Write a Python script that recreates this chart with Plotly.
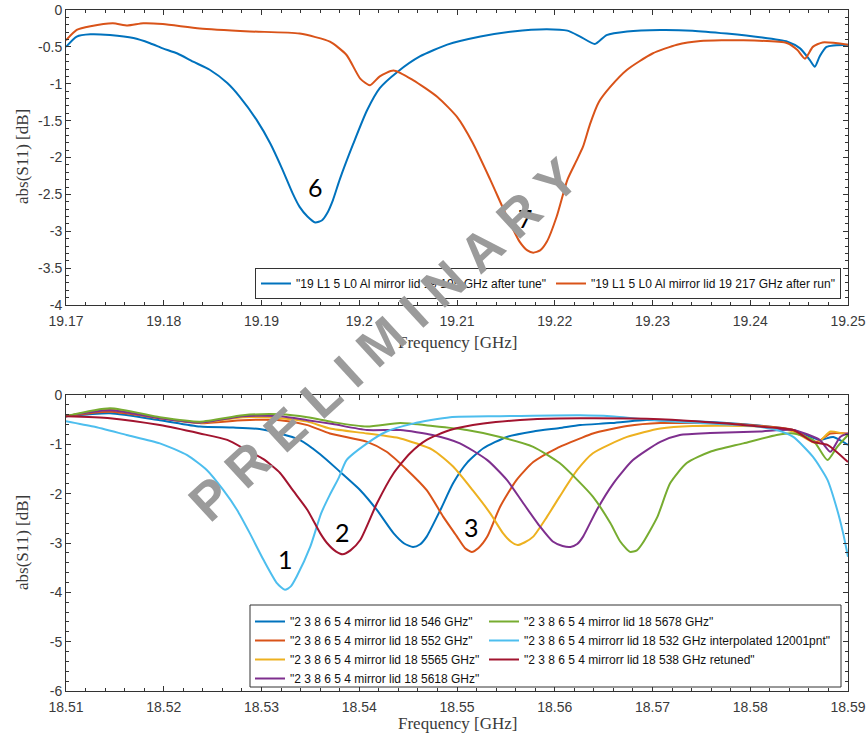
import plotly.graph_objects as go

W, H = 867, 737

# ---------------- data: top panel ----------------
top_blue_f = [19.1700, 19.1711, 19.1725, 19.1745, 19.1769, 19.1786, 19.1799, 19.1814, 19.1830, 19.1847,
              19.1865, 19.1878, 19.1895, 19.1909, 19.1921, 19.1932, 19.1939, 19.1947, 19.1955, 19.1962,
              19.1967, 19.1973, 19.1980, 19.1994, 19.2008, 19.2021, 19.2039, 19.2062, 19.2090, 19.2124,
              19.2157, 19.2192, 19.2213, 19.2226, 19.2241, 19.2253, 19.2274, 19.2308, 19.2341, 19.2376,
              19.2410, 19.2438, 19.2451, 19.2461, 19.2466, 19.2471, 19.2478, 19.2500]
top_blue_db = [-0.50, -0.36, -0.33, -0.34, -0.38, -0.45, -0.52, -0.59, -0.70, -0.81,
               -0.99, -1.18, -1.49, -1.81, -2.15, -2.49, -2.67, -2.80, -2.88, -2.85,
               -2.76, -2.58, -2.30, -1.81, -1.36, -1.06, -0.84, -0.63, -0.47, -0.36,
               -0.29, -0.26, -0.28, -0.36, -0.46, -0.34, -0.29, -0.27, -0.28, -0.32,
               -0.37, -0.43, -0.52, -0.68, -0.77, -0.63, -0.50, -0.47]

top_orange_f = [19.1700, 19.1711, 19.1725, 19.1748, 19.1763, 19.1779, 19.1799, 19.1837, 19.1888, 19.1939,
                19.1970, 19.1987, 19.2001, 19.2011, 19.2021, 19.2035, 19.2055, 19.2080, 19.2100, 19.2116,
                19.2134, 19.2151, 19.2164, 19.2172, 19.2178, 19.2185, 19.2192, 19.2202, 19.2213, 19.2222,
                19.2229, 19.2236, 19.2245, 19.2257, 19.2274, 19.2300, 19.2325, 19.2349, 19.2393, 19.2438,
                19.2448, 19.2456, 19.2464, 19.2474, 19.2500]
top_orange_db = [-0.41, -0.27, -0.22, -0.18, -0.21, -0.18, -0.19, -0.25, -0.29, -0.32,
                 -0.43, -0.61, -0.93, -1.02, -0.90, -0.82, -0.95, -1.18, -1.45, -1.80,
                 -2.30, -2.80, -3.14, -3.26, -3.29, -3.26, -3.14, -2.80, -2.30, -2.05,
                 -1.85, -1.55, -1.25, -1.04, -0.81, -0.59, -0.47, -0.42, -0.41, -0.45,
                 -0.54, -0.66, -0.50, -0.44, -0.47]

top_names = ['"19 L1 5 L0 Al mirror lid 19 195 GHz after tune"',
             '"19 L1 5 L0 Al mirror lid 19 217 GHz after run"']

# ---------------- data: bottom panel ----------------
b546_f = [18.5100, 18.5145, 18.5196, 18.5237, 18.5271, 18.5298, 18.5319, 18.5339, 18.5360, 18.5380,
          18.5401, 18.5418, 18.5435, 18.5446, 18.5455, 18.5462, 18.5469, 18.5483, 18.5496, 18.5510,
          18.5527, 18.5551, 18.5578, 18.5605, 18.5626, 18.5657, 18.5690, 18.5776, 18.5844, 18.5871,
          18.5885, 18.5900]
b546_db = [-0.43, -0.37, -0.51, -0.64, -0.66, -0.69, -0.78, -0.91, -1.20, -1.55,
           -1.93, -2.33, -2.80, -3.01, -3.08, -3.03, -2.87, -2.33, -1.79, -1.38,
           -1.08, -0.85, -0.74, -0.67, -0.61, -0.57, -0.51, -0.57, -0.71, -0.91,
           -0.85, -1.01]

b552_f = [18.5100, 18.5145, 18.5196, 18.5237, 18.5281, 18.5319, 18.5347, 18.5370, 18.5408, 18.5428,
          18.5449, 18.5469, 18.5486, 18.5500, 18.5508, 18.5515, 18.5522, 18.5531, 18.5544, 18.5561,
          18.5578, 18.5602, 18.5626, 18.5639, 18.5674, 18.5708, 18.5776, 18.5844, 18.5868, 18.5882,
          18.5900]
b552_db = [-0.43, -0.34, -0.47, -0.57, -0.51, -0.51, -0.61, -0.78, -0.95, -1.15,
           -1.52, -1.93, -2.47, -2.87, -3.10, -3.18, -3.10, -2.87, -2.27, -1.72,
           -1.36, -1.08, -0.88, -0.78, -0.63, -0.57, -0.58, -0.71, -0.95, -0.78,
           -0.78]

b5565_f = [18.5100, 18.5145, 18.5196, 18.5237, 18.5281, 18.5319, 18.5347, 18.5370, 18.5408, 18.5442,
           18.5475, 18.5496, 18.5516, 18.5534, 18.5547, 18.5555, 18.5562, 18.5569, 18.5578, 18.5592,
           18.5605, 18.5623, 18.5639, 18.5674, 18.5708, 18.5741, 18.5810, 18.5844, 18.5868, 18.5882,
           18.5900]
b5565_db = [-0.43, -0.30, -0.47, -0.56, -0.45, -0.47, -0.54, -0.68, -0.78, -0.88,
            -1.11, -1.45, -1.93, -2.40, -2.80, -2.97, -3.04, -2.99, -2.87, -2.47,
            -2.06, -1.52, -1.18, -0.85, -0.68, -0.63, -0.64, -0.74, -0.98, -0.74,
            -0.81]

b5618_f = [18.5100, 18.5145, 18.5196, 18.5237, 18.5281, 18.5319, 18.5347, 18.5373, 18.5408, 18.5442,
           18.5475, 18.5503, 18.5531, 18.5551, 18.5568, 18.5585, 18.5598, 18.5608, 18.5616, 18.5623,
           18.5629, 18.5643, 18.5660, 18.5680, 18.5708, 18.5728, 18.5759, 18.5810, 18.5844, 18.5871,
           18.5882, 18.5892, 18.5900]
b5618_db = [-0.43, -0.31, -0.47, -0.56, -0.43, -0.43, -0.51, -0.59, -0.71, -0.71,
            -0.81, -0.98, -1.32, -1.72, -2.20, -2.67, -2.97, -3.06, -3.08, -3.02,
            -2.87, -2.33, -1.79, -1.32, -0.95, -0.81, -0.77, -0.74, -0.71, -0.91,
            -1.15, -0.85, -0.78]

b5678_f = [18.5100, 18.5145, 18.5196, 18.5237, 18.5281, 18.5319, 18.5347, 18.5373, 18.5408, 18.5442,
           18.5475, 18.5510, 18.5544, 18.5578, 18.5605, 18.5623, 18.5639, 18.5657, 18.5667, 18.5677,
           18.5684, 18.5690, 18.5705, 18.5718, 18.5735, 18.5759, 18.5793, 18.5827, 18.5844, 18.5864,
           18.5879, 18.5889, 18.5900]
b5678_db = [-0.43, -0.27, -0.45, -0.54, -0.41, -0.39, -0.45, -0.55, -0.64, -0.57,
            -0.63, -0.71, -0.85, -1.05, -1.38, -1.72, -2.06, -2.60, -2.97, -3.18,
            -3.15, -3.00, -2.47, -1.79, -1.38, -1.15, -0.98, -0.81, -0.78, -0.91,
            -1.32, -1.05, -0.81]

b532_f = [18.5100, 18.5128, 18.5162, 18.5196, 18.5224, 18.5244, 18.5261, 18.5275, 18.5288, 18.5302,
          18.5316, 18.5324, 18.5330, 18.5336, 18.5350, 18.5361, 18.5370, 18.5379, 18.5387, 18.5408,
          18.5428, 18.5455, 18.5493, 18.5544, 18.5626, 18.5657, 18.5708, 18.5759, 18.5803, 18.5827,
          18.5844, 18.5864, 18.5879, 18.5889, 18.5895, 18.5900]
b532_db = [-0.53, -0.64, -0.81, -0.98, -1.22, -1.52, -1.93, -2.33, -2.80, -3.34,
           -3.82, -3.95, -3.88, -3.68, -3.07, -2.40, -2.02, -1.68, -1.32, -0.98,
           -0.74, -0.58, -0.45, -0.43, -0.41, -0.43, -0.52, -0.58, -0.63, -0.71,
           -0.85, -1.25, -1.72, -2.33, -2.80, -3.28]

b538_f = [18.5100, 18.5145, 18.5196, 18.5237, 18.5265, 18.5285, 18.5302, 18.5319, 18.5332, 18.5347,
          18.5360, 18.5367, 18.5376, 18.5383, 18.5391, 18.5401, 18.5418, 18.5435, 18.5452, 18.5469,
          18.5493, 18.5527, 18.5578, 18.5626, 18.5708, 18.5776, 18.5810, 18.5844, 18.5864, 18.5879,
          18.5900]
b538_db = [-0.43, -0.47, -0.61, -0.78, -0.91, -1.12, -1.30, -1.58, -1.93, -2.33,
           -2.80, -3.00, -3.17, -3.23, -3.15, -2.94, -2.20, -1.59, -1.18, -0.91,
           -0.71, -0.58, -0.49, -0.47, -0.49, -0.58, -0.64, -0.71, -0.95, -1.01,
           -1.36]

bottom_names = ['"2 3 8 6 5 4 mirror lid 18 546 GHz"',
                '"2 3 8 6 5 4 mirror lid 18 552 GHz"',
                '"2 3 8 6 5 4 mirror lid 18 5565 GHz"',
                '"2 3 8 6 5 4 mirror lid 18 5618 GHz"',
                '"2 3 8 6 5 4 mirror lid 18 5678 GHz"',
                '"2 3 8 6 5 4 mirrorr lid 18 532 GHz interpolated 12001pnt"',
                '"2 3 8 6 5 4 mirrorr lid 18 538 GHz retuned"']

# tick labels
top_x_ticks = [19.17, 19.18, 19.19, 19.20, 19.21, 19.22, 19.23, 19.24, 19.25]
top_x_text = ["19.17", "19.18", "19.19", "19.2", "19.21", "19.22", "19.23", "19.24", "19.25"]
top_y_ticks = [0, -0.5, -1, -1.5, -2, -2.5, -3, -3.5, -4]
top_y_text = ["0", "-0.5", "-1", "-1.5", "-2", "-2.5", "-3", "-3.5", "-4"]
bot_x_ticks = [18.51, 18.52, 18.53, 18.54, 18.55, 18.56, 18.57, 18.58, 18.59]
bot_x_text = ["18.51", "18.52", "18.53", "18.54", "18.55", "18.56", "18.57", "18.58", "18.59"]
bot_y_ticks = [0, -1, -2, -3, -4, -5, -6]
bot_y_text = ["0", "-1", "-2", "-3", "-4", "-5", "-6"]

# dip labels
top_lbl_text = ["6", "7"]
top_lbl_f = [19.1955, 19.2170]
top_lbl_db = [-2.40, -2.82]
bot_lbl_text = ["1", "2", "3"]
bot_lbl_f = [18.5325, 18.5383, 18.5515]
bot_lbl_db = [-3.32, -2.78, -2.68]

# ---------------- figure ----------------
C_BLUE, C_ORANGE, C_YELLOW = "#0072BD", "#D95319", "#EDB120"
C_PURPLE, C_GREEN, C_CYAN, C_MAROON = "#7E2F8E", "#77AC30", "#4DBEEE", "#A2142F"

def px_x(px):
    return px / W

def px_y(py):
    return 1 - py / H

fig = go.Figure()
LW = 2
SM = 0.6

fig.add_trace(go.Scatter(x=top_blue_f, y=top_blue_db, mode="lines", name=top_names[0],
                         line=dict(color=C_BLUE, width=LW, shape="spline", smoothing=SM),
                         xaxis="x", yaxis="y", legend="legend"))
fig.add_trace(go.Scatter(x=top_orange_f, y=top_orange_db, mode="lines", name=top_names[1],
                         line=dict(color=C_ORANGE, width=LW, shape="spline", smoothing=SM),
                         xaxis="x", yaxis="y", legend="legend"))

bottom_series = [
    (b546_f, b546_db, C_BLUE, "legend2"),
    (b552_f, b552_db, C_ORANGE, "legend2"),
    (b5565_f, b5565_db, C_YELLOW, "legend2"),
    (b5618_f, b5618_db, C_PURPLE, "legend2"),
    (b5678_f, b5678_db, C_GREEN, "legend3"),
    (b532_f, b532_db, C_CYAN, "legend3"),
    (b538_f, b538_db, C_MAROON, "legend3"),
]
for (xs, ys, col, lg), nm in zip(bottom_series, bottom_names):
    fig.add_trace(go.Scatter(x=xs, y=ys, mode="lines", name=nm,
                             line=dict(color=col, width=LW, shape="spline", smoothing=SM),
                             xaxis="x2", yaxis="y2", legend=lg))

AXC = "#333333"
TICKFONT = dict(family="Liberation Sans, Arial, sans-serif", size=14, color="#3a3a3a")
LEGFONT = dict(family="Liberation Sans, Arial, sans-serif", size=12, color="#111")

def axis(rng, tv, tt, mdt, domain, anchor, standoff=0):
    return dict(range=rng, domain=domain, anchor=anchor, tickmode="array", automargin=False,
                tickvals=tv, ticktext=tt, ticks="inside", ticklen=5, tickwidth=1,
                tickcolor=AXC, showline=True, linecolor=AXC, linewidth=1,
                ticklabelstandoff=standoff,
                mirror="allticks", showgrid=False, zeroline=False, tickfont=TICKFONT,
                minor=dict(tickmode="linear", tick0=rng[0], dtick=mdt, ticks="inside",
                           ticklen=3, tickwidth=1, tickcolor=AXC, showgrid=False))

xdom = [px_x(66), px_x(848)]
fig.update_layout(
    width=W, height=H, margin=dict(l=0, r=0, t=0, b=0, autoexpand=False),
    paper_bgcolor="white", plot_bgcolor="white",
    xaxis=axis([19.17, 19.25], top_x_ticks, top_x_text, 0.002, xdom, "y", 3),
    yaxis=axis([-4, 0], top_y_ticks, top_y_text, 0.1, [px_y(305), px_y(10)], "x"),
    xaxis2=axis([18.51, 18.59], bot_x_ticks, bot_x_text, 0.002, xdom, "y2", 3),
    yaxis2=axis([-6, 0], bot_y_ticks, bot_y_text, 0.2, [px_y(691), px_y(395)], "x2"),
    legend=dict(orientation="h", x=px_x(841), xanchor="right", y=px_y(299), yanchor="bottom",
                bgcolor="white", bordercolor=AXC, borderwidth=1, font=LEGFONT,
                itemwidth=30, tracegroupgap=0),
    legend2=dict(orientation="v", x=px_x(250), xanchor="left", y=px_y(607), yanchor="top",
                 bgcolor="rgba(0,0,0,0)", borderwidth=0, font=LEGFONT,
                 itemwidth=30, tracegroupgap=0),
    legend3=dict(orientation="v", x=px_x(484), xanchor="left", y=px_y(607), yanchor="top",
                 bgcolor="rgba(0,0,0,0)", borderwidth=0, font=LEGFONT,
                 itemwidth=30, tracegroupgap=0),
    showlegend=True,
)

# legend frame for bottom panel
fig.add_shape(type="rect", xref="paper", yref="paper",
              x0=px_x(250), x1=px_x(841), y0=px_y(687), y1=px_y(605),
              line=dict(color=AXC, width=1), fillcolor="white", layer="above")

ann = []
TITLEFONT = dict(family="Liberation Serif, Times New Roman, serif", size=17, color="#3a3a3a")
for ty, txt, ang, tx in [(157, "abs(S11) [dB]", -90, 22), (543, "abs(S11) [dB]", -90, 22),
                         (342, "Frequency [GHz]", 0, 457), (723, "Frequency [GHz]", 0, 457)]:
    ann.append(dict(text=txt, xref="paper", yref="paper", x=px_x(tx), y=px_y(ty),
                    xanchor="center", yanchor="middle", textangle=ang, showarrow=False,
                    font=TITLEFONT))

LBLFONT = dict(family="Lato, Open Sans, sans-serif", size=25, color="black")
for t, fx, fy in zip(top_lbl_text, top_lbl_f, top_lbl_db):
    ann.append(dict(text=t, x=fx, y=fy, xref="x", yref="y", showarrow=False, font=LBLFONT))
for t, fx, fy in zip(bot_lbl_text, bot_lbl_f, bot_lbl_db):
    ann.append(dict(text=t, x=fx, y=fy, xref="x2", yref="y2", showarrow=False, font=LBLFONT))

# watermark
ann.append(dict(text="<b>P R E L I M I N A R Y</b>", xref="paper", yref="paper",
                x=px_x(383), y=px_y(339), xanchor="center", yanchor="middle",
                textangle=-42.6, showarrow=False,
                font=dict(family="Liberation Sans, Arial, sans-serif", size=53, color="#9b9b9b")))

fig.update_layout(annotations=ann)
fig.write_html("out.html")
